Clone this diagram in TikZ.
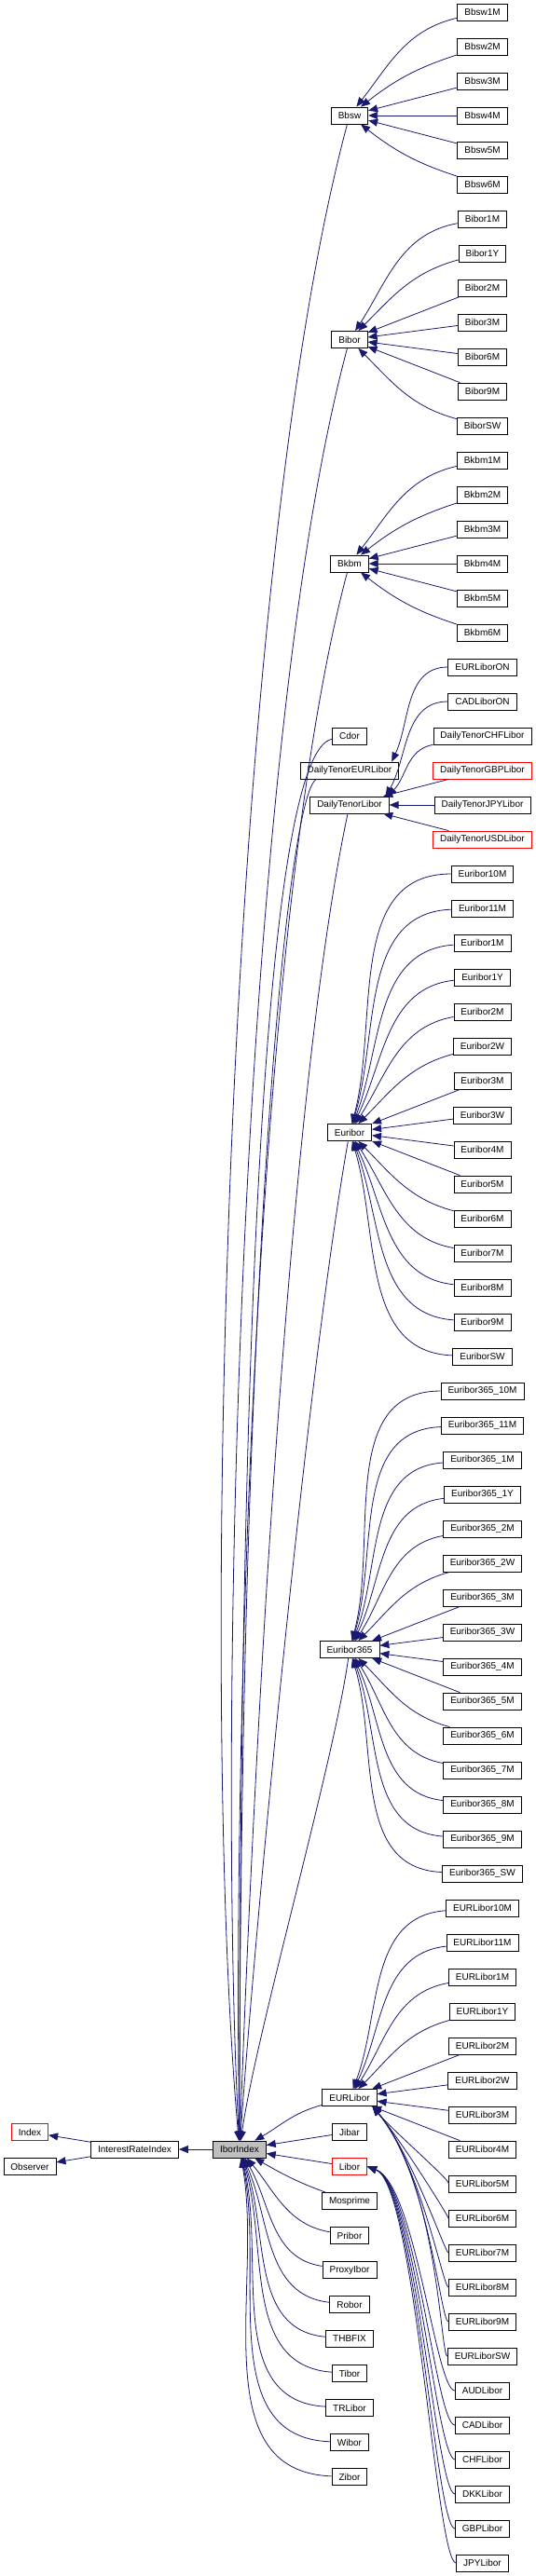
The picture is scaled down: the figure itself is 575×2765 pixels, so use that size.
\documentclass[tikz,border=0pt]{standalone}
\usepackage{fontspec}
\setmainfont{Liberation Sans}
\usetikzlibrary{arrows.meta}
\definecolor{edgeblue}{RGB}{25,25,112}

\begin{document}
\begin{tikzpicture}[
    x=1pt, y=1pt,
    cls/.style={rectangle, draw=black, fill=white, line width=0.8pt, minimum height=18pt, inner xsep=7.5pt, inner ysep=0pt, font=\fontsize{10}{12}\selectfont},
    undoc/.style={cls, draw=red},
    current/.style={cls, fill=black!25},
    inherit/.style={draw=edgeblue, line width=0.8pt, -{Triangle[length=10pt,width=8pt]}}
]

% Canvas
\fill[white] (0,0) rectangle (575,-2765);
\useasboundingbox (0,0) rectangle (575,-2765);

% Base classes
\node[undoc] (index) at (32,-2288.5) {Index};
\node[cls] (observer) at (32,-2325.5) {Observer};
\node[cls] (iri) at (144.5,-2307) {InterestRateIndex};
\node[current] (ibor) at (257,-2307) {IborIndex};

% Direct subclasses of IborIndex
\node[cls] (bbsw) at (375,-124) {Bbsw};
\node[cls] (bibor) at (375,-364.5) {Bibor};
\node[cls] (bkbm) at (375,-605) {Bkbm};
\node[cls] (cdor) at (375,-790) {Cdor};
\node[cls] (dteur) at (375,-827) {DailyTenorEURLibor};
\node[cls] (dtl) at (375,-864) {DailyTenorLibor};
\node[cls] (euribor) at (375,-1215.5) {Euribor};
\node[cls] (e365) at (375,-1770.5) {Euribor365};
\node[cls] (eurlibor) at (375,-2251.5) {EURLibor};
\node[cls] (jibar) at (375,-2288.5) {Jibar};
\node[undoc] (libor) at (375,-2325.5) {Libor};
\node[cls] (mosprime) at (375,-2362.5) {Mosprime};
\node[cls] (pribor) at (375,-2399.5) {Pribor};
\node[cls] (proxyibor) at (375,-2436.5) {ProxyIbor};
\node[cls] (robor) at (375,-2473.5) {Robor};
\node[cls] (thbfix) at (375,-2510.5) {THBFIX};
\node[cls] (tibor) at (375,-2547.5) {Tibor};
\node[cls] (trlibor) at (375,-2584.5) {TRLibor};
\node[cls] (wibor) at (375,-2621.5) {Wibor};
\node[cls] (zibor) at (375,-2658.5) {Zibor};

% Bbsw family
\node[cls] (bbsw1M) at (517.5,-13) {Bbsw1M};
\node[cls] (bbsw2M) at (517.5,-50) {Bbsw2M};
\node[cls] (bbsw3M) at (517.5,-87) {Bbsw3M};
\node[cls] (bbsw4M) at (517.5,-124) {Bbsw4M};
\node[cls] (bbsw5M) at (517.5,-161) {Bbsw5M};
\node[cls] (bbsw6M) at (517.5,-198) {Bbsw6M};

% Bibor family
\node[cls] (bibor1M) at (517.5,-235) {Bibor1M};
\node[cls] (bibor1Y) at (517.5,-272) {Bibor1Y};
\node[cls] (bibor2M) at (517.5,-309) {Bibor2M};
\node[cls] (bibor3M) at (517.5,-346) {Bibor3M};
\node[cls] (bibor6M) at (517.5,-383) {Bibor6M};
\node[cls] (bibor9M) at (517.5,-420) {Bibor9M};
\node[cls] (biborSW) at (517.5,-457) {BiborSW};

% Bkbm family
\node[cls] (bkbm1M) at (517.5,-494) {Bkbm1M};
\node[cls] (bkbm2M) at (517.5,-531) {Bkbm2M};
\node[cls] (bkbm3M) at (517.5,-568) {Bkbm3M};
\node[cls] (bkbm4M) at (517.5,-605) {Bkbm4M};
\node[cls] (bkbm5M) at (517.5,-642) {Bkbm5M};
\node[cls] (bkbm6M) at (517.5,-679) {Bkbm6M};

% Daily tenor family
\node[cls] (eurliborON) at (517.5,-716) {EURLiborON};
\node[cls] (cadliborON) at (517.5,-753) {CADLiborON};
\node[cls] (dtchf) at (517.5,-790) {DailyTenorCHFLibor};
\node[undoc] (dtgbp) at (517.5,-827) {DailyTenorGBPLibor};
\node[cls] (dtjpy) at (517.5,-864) {DailyTenorJPYLibor};
\node[undoc] (dtusd) at (517.5,-901) {DailyTenorUSDLibor};

% Euribor family
\node[cls] (eur10M) at (517.5,-938) {Euribor10M};
\node[cls] (eur11M) at (517.5,-975) {Euribor11M};
\node[cls] (eur1M) at (517.5,-1012) {Euribor1M};
\node[cls] (eur1Y) at (517.5,-1049) {Euribor1Y};
\node[cls] (eur2M) at (517.5,-1086) {Euribor2M};
\node[cls] (eur2W) at (517.5,-1123) {Euribor2W};
\node[cls] (eur3M) at (517.5,-1160) {Euribor3M};
\node[cls] (eur3W) at (517.5,-1197) {Euribor3W};
\node[cls] (eur4M) at (517.5,-1234) {Euribor4M};
\node[cls] (eur5M) at (517.5,-1271) {Euribor5M};
\node[cls] (eur6M) at (517.5,-1308) {Euribor6M};
\node[cls] (eur7M) at (517.5,-1345) {Euribor7M};
\node[cls] (eur8M) at (517.5,-1382) {Euribor8M};
\node[cls] (eur9M) at (517.5,-1419) {Euribor9M};
\node[cls] (eurSW) at (517.5,-1456) {EuriborSW};

% Euribor365 family
\node[cls] (e365-10M) at (517.5,-1493) {Euribor365\_10M};
\node[cls] (e365-11M) at (517.5,-1530) {Euribor365\_11M};
\node[cls] (e365-1M) at (517.5,-1567) {Euribor365\_1M};
\node[cls] (e365-1Y) at (517.5,-1604) {Euribor365\_1Y};
\node[cls] (e365-2M) at (517.5,-1641) {Euribor365\_2M};
\node[cls] (e365-2W) at (517.5,-1678) {Euribor365\_2W};
\node[cls] (e365-3M) at (517.5,-1715) {Euribor365\_3M};
\node[cls] (e365-3W) at (517.5,-1752) {Euribor365\_3W};
\node[cls] (e365-4M) at (517.5,-1789) {Euribor365\_4M};
\node[cls] (e365-5M) at (517.5,-1826) {Euribor365\_5M};
\node[cls] (e365-6M) at (517.5,-1863) {Euribor365\_6M};
\node[cls] (e365-7M) at (517.5,-1900) {Euribor365\_7M};
\node[cls] (e365-8M) at (517.5,-1937) {Euribor365\_8M};
\node[cls] (e365-9M) at (517.5,-1974) {Euribor365\_9M};
\node[cls] (e365-SW) at (517.5,-2011) {Euribor365\_SW};

% EURLibor family
\node[cls] (el10M) at (517.5,-2048) {EURLibor10M};
\node[cls] (el11M) at (517.5,-2085) {EURLibor11M};
\node[cls] (el1M) at (517.5,-2122) {EURLibor1M};
\node[cls] (el1Y) at (517.5,-2159) {EURLibor1Y};
\node[cls] (el2M) at (517.5,-2196) {EURLibor2M};
\node[cls] (el2W) at (517.5,-2233) {EURLibor2W};
\node[cls] (el3M) at (517.5,-2270) {EURLibor3M};
\node[cls] (el4M) at (517.5,-2307) {EURLibor4M};
\node[cls] (el5M) at (517.5,-2344) {EURLibor5M};
\node[cls] (el6M) at (517.5,-2381) {EURLibor6M};
\node[cls] (el7M) at (517.5,-2418) {EURLibor7M};
\node[cls] (el8M) at (517.5,-2455) {EURLibor8M};
\node[cls] (el9M) at (517.5,-2492) {EURLibor9M};
\node[cls] (elSW) at (517.5,-2529) {EURLiborSW};

% Libor family
\node[cls] (audlibor) at (517.5,-2566) {AUDLibor};
\node[cls] (cadlibor) at (517.5,-2603) {CADLibor};
\node[cls] (chflibor) at (517.5,-2640) {CHFLibor};
\node[cls] (dkklibor) at (517.5,-2677) {DKKLibor};
\node[cls] (gbplibor) at (517.5,-2714) {GBPLibor};
\node[cls] (jpylibor) at (517.5,-2751) {JPYLibor};

% Base links
\draw[inherit] (iri) -- (index);
\draw[inherit] (iri) -- (observer);
\draw[inherit] (ibor) -- (iri);

% Links into IborIndex from above
\draw[inherit] (bbsw) .. controls +(255:510) and +(95:510) .. (ibor);
\draw[inherit] (bibor) .. controls +(255:455) and +(93:455) .. (ibor);
\draw[inherit] (bkbm) .. controls +(255:400) and +(91:400) .. (ibor);
\draw[inherit] (cdor) .. controls +(190:90) and +(90:900) .. (ibor);
\draw[inherit] (dteur) .. controls +(195:70) and +(90:900) .. (ibor);
\draw[inherit] (dtl) .. controls +(258:335) and +(88:335) .. (ibor);
\draw[inherit] (euribor) .. controls +(260:255) and +(86:255) .. (ibor);
\draw[inherit] (e365) .. controls +(262:125) and +(82:125) .. (ibor);
\draw[inherit] (eurlibor) to[out=195,in=30] (ibor);
\draw[inherit] (jibar) -- (ibor);
\draw[inherit] (libor) -- (ibor);

% Links into IborIndex from below
\draw[inherit] (mosprime) to[out=160,in=-30] (ibor);
\draw[inherit] (pribor) to[out=170,in=-50] (ibor);
\draw[inherit] (proxyibor) to[out=172,in=-60] (ibor);
\draw[inherit] (robor) to[out=174,in=-66] (ibor);
\draw[inherit] (thbfix) to[out=175,in=-70] (ibor);
\draw[inherit] (tibor) to[out=176,in=-73] (ibor);
\draw[inherit] (trlibor) to[out=177,in=-76] (ibor);
\draw[inherit] (wibor) to[out=178,in=-78] (ibor);
\draw[inherit] (zibor) to[out=178,in=-80] (ibor);

% Bbsw links
\draw[inherit] (bbsw1M) to[out=193,in=52] (bbsw);
\draw[inherit] (bbsw2M) to[out=198,in=38] (bbsw);
\draw[inherit] (bbsw3M) -- (bbsw);
\draw[inherit] (bbsw4M) -- (bbsw);
\draw[inherit] (bbsw5M) -- (bbsw);
\draw[inherit] (bbsw6M) to[out=162,in=-38] (bbsw);

% Bibor links
\draw[inherit] (bibor1M) to[out=190,in=57] (bibor);
\draw[inherit] (bibor1Y) to[out=195,in=45] (bibor);
\draw[inherit] (bibor2M) -- (bibor);
\draw[inherit] (bibor3M) -- (bibor);
\draw[inherit] (bibor6M) -- (bibor);
\draw[inherit] (bibor9M) -- (bibor);
\draw[inherit] (biborSW) to[out=165,in=-45] (bibor);

% Bkbm links
\draw[inherit] (bkbm1M) to[out=193,in=52] (bkbm);
\draw[inherit] (bkbm2M) to[out=198,in=38] (bkbm);
\draw[inherit] (bkbm3M) -- (bkbm);
\draw[inherit] (bkbm4M) -- (bkbm);
\draw[inherit] (bkbm5M) -- (bkbm);
\draw[inherit] (bkbm6M) to[out=162,in=-38] (bkbm);

% Daily tenor links
\draw[inherit] (eurliborON) to[out=180,in=65] ([xshift=-8pt]dteur.north east);
\draw[inherit] (cadliborON) to[out=180,in=60] ([xshift=-4pt]dtl.north east);
\draw[inherit] (dtchf) to[out=190,in=45] ([xshift=-2pt]dtl.north east);
\draw[inherit] (dtgbp) -- (dtl);
\draw[inherit] (dtjpy) -- (dtl);
\draw[inherit] (dtusd) -- (dtl);

% Euribor links
\draw[inherit] (eur10M) to[out=180,in=75] (euribor);
\draw[inherit] (eur11M) to[out=182,in=73] (euribor);
\draw[inherit] (eur1M) to[out=184,in=69] (euribor);
\draw[inherit] (eur1Y) to[out=186,in=64] (euribor);
\draw[inherit] (eur2M) to[out=190,in=57] (euribor);
\draw[inherit] (eur2W) to[out=195,in=45] (euribor);
\draw[inherit] (eur3M) -- (euribor);
\draw[inherit] (eur3W) -- (euribor);
\draw[inherit] (eur4M) -- (euribor);
\draw[inherit] (eur5M) -- (euribor);
\draw[inherit] (eur6M) to[out=165,in=-45] (euribor);
\draw[inherit] (eur7M) to[out=170,in=-57] (euribor);
\draw[inherit] (eur8M) to[out=174,in=-64] (euribor);
\draw[inherit] (eur9M) to[out=176,in=-69] (euribor);
\draw[inherit] (eurSW) to[out=178,in=-73] (euribor);

% Euribor365 links
\draw[inherit] (e365-10M) to[out=180,in=75] (e365);
\draw[inherit] (e365-11M) to[out=182,in=73] (e365);
\draw[inherit] (e365-1M) to[out=184,in=69] (e365);
\draw[inherit] (e365-1Y) to[out=186,in=64] (e365);
\draw[inherit] (e365-2M) to[out=190,in=57] (e365);
\draw[inherit] (e365-2W) to[out=195,in=45] (e365);
\draw[inherit] (e365-3M) -- (e365);
\draw[inherit] (e365-3W) -- (e365);
\draw[inherit] (e365-4M) -- (e365);
\draw[inherit] (e365-5M) -- (e365);
\draw[inherit] (e365-6M) to[out=165,in=-45] (e365);
\draw[inherit] (e365-7M) to[out=170,in=-57] (e365);
\draw[inherit] (e365-8M) to[out=174,in=-64] (e365);
\draw[inherit] (e365-9M) to[out=176,in=-69] (e365);
\draw[inherit] (e365-SW) to[out=178,in=-73] (e365);

% EURLibor links
\draw[inherit] (el10M) to[out=184,in=69] (eurlibor);
\draw[inherit] (el11M) to[out=186,in=64] (eurlibor);
\draw[inherit] (el1M) to[out=190,in=57] (eurlibor);
\draw[inherit] (el1Y) to[out=195,in=45] (eurlibor);
\draw[inherit] (el2M) -- (eurlibor);
\draw[inherit] (el2W) -- (eurlibor);
\draw[inherit] (el3M) -- (eurlibor);
\draw[inherit] (el4M) -- (eurlibor);
\draw[inherit] (el5M) .. controls +(180:30) and +(-50:35) .. ([xshift=-5pt]eurlibor.south east);
\draw[inherit] (el6M) .. controls +(180:35) and +(-50:50) .. ([xshift=-5pt]eurlibor.south east);
\draw[inherit] (el7M) .. controls +(180:40) and +(-50:65) .. ([xshift=-5pt]eurlibor.south east);
\draw[inherit] (el8M) .. controls +(180:42) and +(-50:80) .. ([xshift=-5pt]eurlibor.south east);
\draw[inherit] (el9M) .. controls +(180:45) and +(-50:95) .. ([xshift=-5pt]eurlibor.south east);
\draw[inherit] (elSW) .. controls +(180:45) and +(-50:110) .. ([xshift=-5pt]eurlibor.south east);

% Libor links
\draw[inherit] (audlibor) .. controls +(180:50) and +(-20:55) .. (libor.east);
\draw[inherit] (cadlibor) .. controls +(180:50) and +(-20:55) .. (libor.east);
\draw[inherit] (chflibor) .. controls +(180:50) and +(-20:55) .. (libor.east);
\draw[inherit] (dkklibor) .. controls +(180:50) and +(-20:55) .. (libor.east);
\draw[inherit] (gbplibor) .. controls +(180:50) and +(-20:55) .. (libor.east);
\draw[inherit] (jpylibor) .. controls +(180:50) and +(-20:55) .. (libor.east);

\end{tikzpicture}
\end{document}
